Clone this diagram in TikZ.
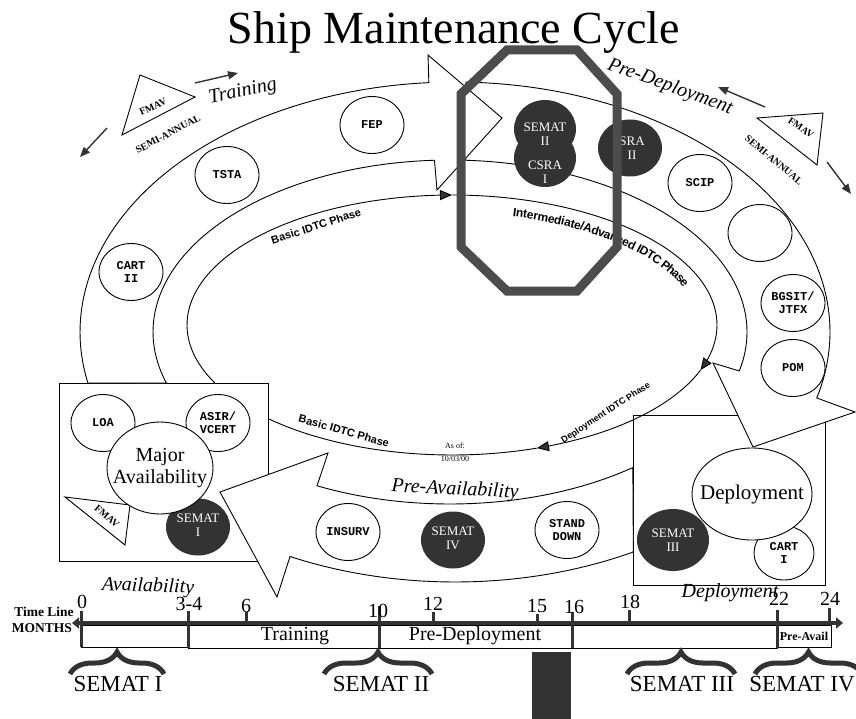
\documentclass[tikz,border=0pt]{standalone}
\usepackage{fontspec}
\setmainfont{Liberation Serif}
\setsansfont{Liberation Sans}
\setmonofont{Liberation Mono}
\usetikzlibrary{arrows.meta,shapes.geometric,decorations.pathreplacing,decorations.text}

\definecolor{darkfill}{gray}{0.2}
\definecolor{octgray}{gray}{0.3}
\newcommand{\fsz}[2]{\fontsize{#1}{#2}\selectfont}
\newcommand{\idtcbig}{\sffamily\bfseries\fontsize{12}{12}\selectfont}

\begin{document}
\begin{tikzpicture}[x=1pt,y=-1pt,line width=0.9pt,
    band/.style={draw,fill=white},
    whitecirc/.style={ellipse,draw,fill=white,inner sep=0pt,align=center,minimum width=64pt,minimum height=57pt,font=\ttfamily\bfseries\fsz{12}{13}},
    darkcirc/.style={ellipse,fill=darkfill,inner sep=0pt,minimum width=64pt,minimum height=57pt},
    darktext/.style={text=white,align=center,inner sep=0pt,font=\fsz{13}{14}},
    bigcirc/.style={ellipse,draw,fill=white,inner sep=0pt},
    bigtext/.style={align=center,inner sep=0pt,font=\fsz{20}{22}},
    idtc/.style={-{Triangle[length=12pt,width=10pt,fill=darkfill]}},
    idtclabel/.style={font=\sffamily\bfseries\fsz{11}{11},inner sep=0pt},
    phase/.style={font=\itshape\fsz{20}{22}},
    fmav/.style={draw,fill=white},
    fmavtext/.style={font=\bfseries\fsz{10}{11},inner sep=0pt},
    fmavarrow/.style={darkfill,line width=1.4pt,-{Triangle[length=10pt,width=8pt]}},
    tick/.style={darkfill,line width=3pt},
    tickno/.style={anchor=base,font=\fsz{20}{22},inner sep=0pt},
    boxtext/.style={font=\fsz{20}{22},inner sep=0pt},
    semat/.style={font=\fsz{23}{25},inner sep=0pt},
    mustache/.style={decorate,decoration={brace,amplitude=22pt},line width=5pt,darkfill}]

    \fill[white] (0,0) rectangle (856,719);
    \useasboundingbox (0,0) rectangle (856,719);

    \node[font=\fsz{46}{50},anchor=base] (title) at (454,44) {Ship Maintenance Cycle};

    \draw[fill=white] (59,383) rectangle (268,561);
    \draw[fill=white] (633,415) rectangle (825,585);

    \draw[idtc] plot[domain=153.5:270,samples=60] ({452+265*cos(\x)},{325+130*sin(\x)});
    \draw[idtc] plot[domain=270:380.3,samples=60] ({452+265*cos(\x)},{325+130*sin(\x)});
    \draw[idtc] plot[domain=20.3:71.3,samples=40] ({452+265*cos(\x)},{325+130*sin(\x)});
    \draw plot[domain=71.3:133.97,samples=40] ({452+265*cos(\x)},{325+130*sin(\x)});

    \node[idtclabel,rotate=18] (basictop) at (316,226) {Basic IDTC Phase};
    \path[decorate,decoration={text along path,text align=center,raise=-18pt,text={|\idtcbig|Intermediate/Advanced IDTC Phase}}]
        plot[domain=-80:-16,samples=60] ({452+265*cos(\x)},{325+130*sin(\x)});
    \node[idtclabel,font=\sffamily\bfseries\fsz{9}{9},rotate=33] (deployidtc) at (606,413) {Deployment IDTC Phase};
    \node[idtclabel,rotate=-16] (basicbottom) at (344,431) {Basic IDTC Phase};

    \node[font=\fsz{8}{9},inner sep=0pt] (asof) at (455,446) {As of:};
    \node[font=\fsz{8}{9},inner sep=0pt] (asofdate) at (455,459) {10/03/00};

    \draw[band] plot[domain=61.6:116.1,samples=50] ({455+375*cos(\x)},{332+250*sin(\x)})
        -- (277,597) -- (220,492) -- (328,453)
        -- plot[domain=116.6:52,samples=50] ({450+297*cos(\x)},{332+172*sin(\x)}) -- cycle;
    \draw[band] plot[domain=-88.3:15.3,samples=80] ({455+375*cos(\x)},{332+250*sin(\x)})
        -- (855,412) -- (753,447) -- (713,363)
        -- plot[domain=13.1:-87,samples=80] ({450+297*cos(\x)},{332+172*sin(\x)}) -- cycle;
    \draw[band] plot[domain=168.2:266,samples=60] ({455+375*cos(\x)},{332+250*sin(\x)})
        -- (428,55) -- (502,118) -- (437,190)
        -- plot[domain=267:162.75,samples=60] ({450+297*cos(\x)},{332+172*sin(\x)}) -- cycle;

    \node[phase,rotate=12] (training) at (243,92) {Training};
    \node[phase,rotate=-20] (predeploy) at (670,87) {Pre-Deployment};
    \node[phase,rotate=-3] (preavail) at (455,490) {Pre-Availability};
    \node[phase,rotate=-2] (avail) at (148,587) {Availability};
    \node[phase] (deployment) at (730,593) {Deployment};

    \node[whitecirc] (tsta) at (227,175) {TSTA};
    \node[whitecirc] (cart2) at (131,272) {CART\\II};
    \node[whitecirc] (fep) at (372,125) {FEP};
    \node[whitecirc] (scip) at (700,183) {SCIP};
    \node[whitecirc] (blank) at (760,233) {};
    \node[whitecirc] (bgsit) at (793,303) {BGSIT/\\JTFX};
    \node[whitecirc] (pom) at (793,368) {POM};
    \node[whitecirc] (insurv) at (348,532) {INSURV};
    \node[whitecirc] (standdown) at (567,530) {STAND\\DOWN};

    \node[darkcirc] (semat4) at (453,540) {};
    \node[darktext] (semat4txt) at (453,538) {SEMAT\\IV};
    \node[darkcirc] (sra2) at (630,148) {};
    \node[darktext] (sra2txt) at (632,148) {SRA\\II};
    \node[darkcirc,minimum width=62pt,minimum height=58pt] (semat2) at (545,129) {};
    \node[darkcirc,minimum width=62pt,minimum height=58pt] (csra1) at (545,158) {};
    \node[darktext] (semat2txt) at (545,134) {SEMAT\\II};
    \node[darktext] (csra1txt) at (545,172) {CSRA\\I};

    \node[whitecirc] (loa) at (103,423) {LOA};
    \node[whitecirc] (asir) at (218,423) {ASIR/\\VCERT};
    \draw[fmav] (65,497) -- (130,505) -- (125,545) -- cycle;
    \node[fmavtext,rotate=-40] (fmavbl) at (107,516) {FMAV};
    \node[darkcirc] (semat1) at (198,527) {};
    \node[darktext] (semat1txt) at (198,525) {SEMAT\\I};
    \node[bigcirc,minimum width=106pt,minimum height=92pt] (major) at (160,468) {};
    \node[bigtext] (majortxt) at (major) {Major\\Availability};

    \node[darkcirc,minimum width=72pt,minimum height=62pt] (semat3) at (673,540) {};
    \node[darktext] (semat3txt) at (673,540) {SEMAT\\III};
    \node[whitecirc,minimum width=60pt,minimum height=54pt] (cart1) at (784,553) {CART\\I};
    \node[bigcirc,minimum width=120pt,minimum height=92pt] (deploy) at (752,494) {};
    \node[bigtext,font=\fsz{21}{23}] (deploytxt) at (deploy) {Deployment};

    \draw[octgray,line width=9pt] (507,50) -- (577,50) -- (617,94) -- (617,247) -- (577,291) -- (507,291) -- (461,247) -- (461,94) -- cycle;

    \draw[fmav] (140,75) -- (195,97) -- (122,135) -- cycle;
    \node[fmavtext,rotate=25] (fmavtl) at (153,107) {FMAV};
    \node[fmavtext,rotate=28] (semitl) at (168,134) {SEMI-ANNUAL};
    \coordinate (tlA) at (195,83);
    \coordinate (tlB) at (238,73);
    \coordinate (tlC) at (107,128);
    \coordinate (tlD) at (80,157);
    \draw[fmavarrow] (tlA) -- (tlB);
    \draw[fmavarrow] (tlC) -- (tlD);

    \draw[fmav] (757,118) -- (823,113) -- (817,165) -- cycle;
    \node[fmavtext,rotate=-35] (fmavtr) at (801,128) {FMAV};
    \node[fmavtext,rotate=-40] (semitr) at (774,160) {SEMI-ANNUAL};
    \coordinate (trA) at (765,107);
    \coordinate (trB) at (718,87);
    \coordinate (trC) at (827,162);
    \coordinate (trD) at (851,194);
    \draw[fmavarrow] (trA) -- (trB);
    \draw[fmavarrow] (trC) -- (trD);

    \node[font=\bfseries\fsz{13.5}{14},inner sep=0pt] (timeline) at (44,612) {Time Line};
    \node[font=\bfseries\fsz{13.5}{14},inner sep=0pt] (months) at (42,628) {MONTHS};

    \draw (81,625) rectangle (188,647);
    \draw (188,625) rectangle (379,648);
    \draw (379,625) rectangle (572,648);
    \draw (572,625) rectangle (777,648);
    \draw (777,625) rectangle (831,647);
    \node[boxtext] (trainbox) at (295,636) {Training};
    \node[boxtext] (predeploybox) at (475,636) {Pre-Deployment};
    \node[font=\bfseries\fsz{12}{13},inner sep=0pt] (preavailbox) at (804,636) {Pre-Avail};

    \coordinate (tlstart) at (72,623);
    \coordinate (tlend) at (843,623);
    \draw[darkfill,line width=3.5pt,{Triangle[length=7pt,width=11pt]}-{Triangle[length=7pt,width=11pt]}] (tlstart) -- (tlend);

    \draw[tick] (81,611) -- (81,647);
    \draw[tick] (188,611) -- (188,648);
    \draw[tick] (246,612) -- (246,623);
    \draw[tick] (379,606) -- (379,648);
    \draw[tick] (433,612) -- (433,623);
    \draw[tick] (537,614) -- (537,623);
    \draw[tick] (572,612) -- (572,648);
    \draw[tick] (629,610) -- (629,623);
    \draw[tick] (777,610) -- (777,648);
    \draw[tick] (829,608) -- (829,623);

    \node[tickno] (m0) at (82,608) {0};
    \node[tickno] (m34) at (189,610) {3-4};
    \node[tickno] (m6) at (246,612) {6};
    \node[tickno] (m10) at (378,617) {10};
    \node[tickno] (m12) at (433,610) {12};
    \node[tickno] (m15) at (537,612) {15};
    \node[tickno] (m16) at (574,613) {16};
    \node[tickno] (m18) at (630,608) {18};
    \node[tickno] (m22) at (779,605) {22};
    \node[tickno] (m24) at (830,605) {24};

    \draw[mustache] (70,674) -- (164,674);
    \draw[mustache] (324,674) -- (432,674);
    \draw[mustache] (627,674) -- (735,674);
    \draw[mustache] (755,674) -- (862,674);

    \node[semat] (sematI) at (118,684) {SEMAT I};
    \node[semat] (sematII) at (381,684) {SEMAT II};
    \node[semat] (sematIII) at (682,684) {SEMAT III};
    \node[semat] (sematIV) at (802,684) {SEMAT IV};

    \fill[darkfill] (532,652) rectangle (571,719);
\end{tikzpicture}
\end{document}
